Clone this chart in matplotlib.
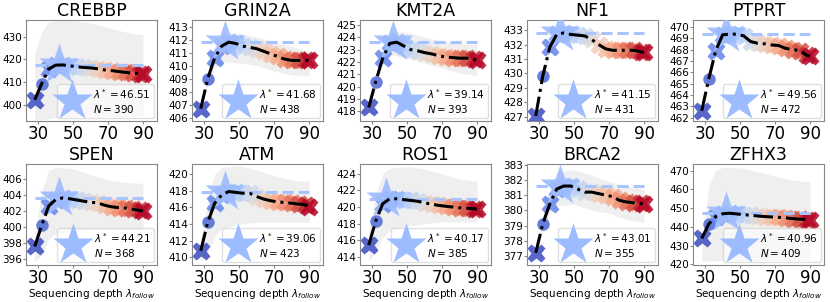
import matplotlib
matplotlib.use("Agg")
import matplotlib.pyplot as plt
import numpy as np
from matplotlib.lines import Line2D
from matplotlib.ticker import MultipleLocator

genes = ["CREBBP", "GRIN2A", "KMT2A", "NF1", "PTPRT",
         "SPEN", "ATM", "ROS1", "BRCA2", "ZFHX3"]
lam_star = [46.51, 41.68, 39.14, 41.15, 49.56, 44.21, 39.06, 40.17, 43.01, 40.96]
n_vals = [390, 438, 393, 431, 472, 368, 423, 385, 355, 409]

depth = [28, 32, 36, 40, 44, 48, 52, 56, 60, 64, 68, 72, 76, 80, 84, 88, 90]
band_depth = [28, 32, 36, 40, 50, 60, 70, 80, 90]

mean_CREBBP = [402.3, 409.4, 415.8, 417.5, 417.6, 417.2, 416.8, 416.5, 416.3, 415.9, 415.4, 415.1, 414.7, 414.3, 414.0, 413.8, 413.7]
lo_CREBBP = [393.5, 393.5, 394.0, 394.5, 395.0, 395.0, 395.0, 395.0, 395.5]
hi_CREBBP = [423.0, 432.0, 436.5, 437.0, 437.0, 436.0, 434.0, 432.0, 430.8]

mean_GRIN2A = [406.7, 409.0, 410.6, 411.5, 411.8, 411.7, 411.5, 411.4, 411.3, 411.1, 410.9, 410.7, 410.5, 410.4, 410.4, 410.4, 410.4]
lo_GRIN2A = [406.7, 408.5, 409.8, 410.3, 410.2, 410.0, 409.6, 409.3, 409.2]
hi_GRIN2A = [406.7, 409.5, 411.5, 412.6, 412.5, 412.2, 411.8, 411.5, 411.1]

mean_KMT2A = [418.3, 420.4, 422.3, 423.5, 423.6, 423.3, 423.0, 422.9, 422.75, 422.65, 422.5, 422.4, 422.35, 422.3, 422.3, 422.2, 422.15]
lo_KMT2A = [418.3, 420.0, 421.8, 422.6, 422.3, 421.9, 421.5, 421.1, 420.9]
hi_KMT2A = [418.3, 420.8, 423.2, 424.5, 424.4, 424.0, 423.7, 423.5, 423.4]

mean_NF1 = [427.05, 429.8, 431.8, 432.7, 432.8, 432.7, 432.65, 432.6, 432.35, 432.0, 431.7, 431.6, 431.6, 431.6, 431.6, 431.5, 431.45]
lo_NF1 = [427.05, 429.5, 431.4, 432.3, 432.3, 432.0, 431.3, 431.2, 431.1]
hi_NF1 = [427.05, 430.1, 432.2, 433.1, 433.0, 432.7, 431.9, 431.9, 431.8]

mean_PTPRT = [462.6, 465.4, 467.9, 469.3, 469.35, 469.35, 469.2, 468.7, 468.55, 468.5, 468.4, 468.35, 468.1, 468.0, 467.9, 467.5, 467.4]
lo_PTPRT = [462.6, 465.2, 467.6, 469.0, 468.9, 468.1, 467.9, 467.6, 467.0]
hi_PTPRT = [462.6, 465.6, 468.2, 469.7, 469.7, 469.0, 468.8, 468.4, 467.8]

mean_SPEN = [397.6, 400.2, 402.6, 403.4, 403.6, 403.5, 403.35, 403.2, 403.05, 403.0, 402.7, 402.5, 402.4, 402.35, 402.2, 402.05, 402.0]
lo_SPEN = [395.8, 396.5, 398.5, 399.2, 399.5, 399.6, 399.6, 399.6, 399.6]
hi_SPEN = [399.0, 404.5, 407.0, 407.4, 407.2, 406.5, 405.8, 405.5, 405.4]

mean_ATM = [410.8, 414.2, 416.5, 417.5, 417.9, 417.8, 417.7, 417.7, 417.3, 417.0, 416.8, 416.65, 416.6, 416.5, 416.4, 416.3, 416.1]
lo_ATM = [409.5, 410.5, 412.5, 413.5, 414.0, 414.2, 414.2, 414.2, 414.2]
hi_ATM = [412.0, 417.0, 420.0, 420.8, 421.0, 420.5, 419.8, 419.3, 419.1]

mean_ROS1 = [415.4, 418.3, 420.4, 421.0, 421.0, 420.9, 420.8, 420.7, 420.5, 420.35, 420.2, 420.1, 420.0, 419.9, 419.85, 419.8, 419.75]
lo_ROS1 = [413.5, 414.5, 416.3, 417.2, 417.7, 418.0, 418.2, 418.2, 418.2]
hi_ROS1 = [417.0, 421.5, 424.0, 424.7, 424.9, 424.6, 424.0, 423.4, 423.1]

mean_BRCA2 = [377.2, 379.1, 380.4, 381.4, 381.6, 381.6, 381.4, 381.2, 381.2, 381.1, 381.0, 380.9, 380.65, 380.55, 380.5, 380.45, 380.4]
lo_BRCA2 = [377.2, 378.6, 379.7, 380.3, 380.4, 380.0, 379.8, 379.4, 379.2]
hi_BRCA2 = [377.2, 379.6, 381.5, 382.5, 382.7, 382.3, 381.9, 381.6, 381.4]

mean_ZFHX3 = [433.8, 441.5, 445.5, 447.0, 447.3, 446.9, 446.5, 446.2, 445.8, 445.5, 445.3, 445.1, 444.8, 444.4, 444.1, 443.9, 443.8]
lo_ZFHX3 = [421.5, 421.8, 422.0, 422.0, 422.0, 422.0, 422.0, 422.0, 422.0]
hi_ZFHX3 = [430.0, 462.0, 470.0, 471.8, 471.5, 469.5, 467.0, 465.0, 464.0]

means = [mean_CREBBP, mean_GRIN2A, mean_KMT2A, mean_NF1, mean_PTPRT,
         mean_SPEN, mean_ATM, mean_ROS1, mean_BRCA2, mean_ZFHX3]
los = [lo_CREBBP, lo_GRIN2A, lo_KMT2A, lo_NF1, lo_PTPRT,
       lo_SPEN, lo_ATM, lo_ROS1, lo_BRCA2, lo_ZFHX3]
his = [hi_CREBBP, hi_GRIN2A, hi_KMT2A, hi_NF1, hi_PTPRT,
       hi_SPEN, hi_ATM, hi_ROS1, hi_BRCA2, hi_ZFHX3]

ylims = [(393.0, 437.3), (405.75, 413.5), (417.2, 425.4), (426.7, 433.7), (461.7, 470.6),
         (395.3, 407.8), (409.1, 421.2), (413.0, 425.2), (376.4, 383.05), (419.6, 473.6)]
ysteps = [10, 1, 1, 1, 1, 2, 2, 2, 1, 10]

W, H = 830, 302
fig = plt.figure(figsize=(8.3, 3.02), dpi=100)
lefts = [26, 192, 360, 527, 693]
tops = [20, 164]
aw, ah = 131, 101

cmap = plt.get_cmap("coolwarm")
star_color = "#9dbcff"

for i, g in enumerate(genes):
    r, c = divmod(i, 5)
    ax = fig.add_axes([lefts[c] / W, 1 - (tops[r] + ah) / H, aw / W, ah / H])
    m = np.array(means[i])
    x = np.array(depth)
    ax.fill_between(band_depth, los[i], his[i], color="#d9d9d9", alpha=0.4, lw=0, zorder=1)
    cols = cmap((x - x.min()) / (x.max() - x.min()))
    for j in range(len(x)):
        mk = "o" if j == 1 else "X"
        ms = 9 if j == 1 else 13.5
        ax.plot(x[j], m[j], marker=mk, ms=ms, color=cols[j], alpha=0.85,
                mec="none", zorder=2)
    k = int(np.argmax(m))
    ax.plot([x.min(), x.max()], [m[k], m[k]], ls="--", color="#a8c4ff", lw=2.2, zorder=2.5)
    ax.plot(x[k] - 2, m[k], marker="*", ms=31, color=star_color, alpha=0.9, mec="none", zorder=3)
    ax.plot(x, m, ls="-.", color="black", lw=2.2, zorder=4)
    ax.set_xlim(23, 98)
    ax.set_ylim(*ylims[i])
    ax.set_xticks([30, 50, 70, 90])
    ax.yaxis.set_major_locator(MultipleLocator(ysteps[i]))
    ax.tick_params(axis="x", labelsize=12, pad=1, length=2, color="#888888")
    ax.tick_params(axis="y", labelsize=7.5, pad=1, length=2, color="#888888")
    for s in ax.spines.values():
        s.set_color("#888888")
    ax.set_title(g, fontsize=12.5, pad=3)
    if r == 1:
        ax.set_xlabel(r"Sequencing depth $\lambda_{follow}$", fontsize=7.5, labelpad=0)
    h = Line2D([], [], ls="none", marker="*", ms=31, color=star_color, mec="none")
    lab = r"$\lambda^*=%.2f$" % lam_star[i] + "\n" + r"$N=%d$" % n_vals[i]
    ax.legend([h], [lab], loc="lower right", fontsize=7.5, handlelength=2.4,
              borderpad=0.3, labelspacing=0.1, handletextpad=0.8, framealpha=0.6,
              borderaxespad=0.3)

fig.savefig("out.png", dpi=100)
